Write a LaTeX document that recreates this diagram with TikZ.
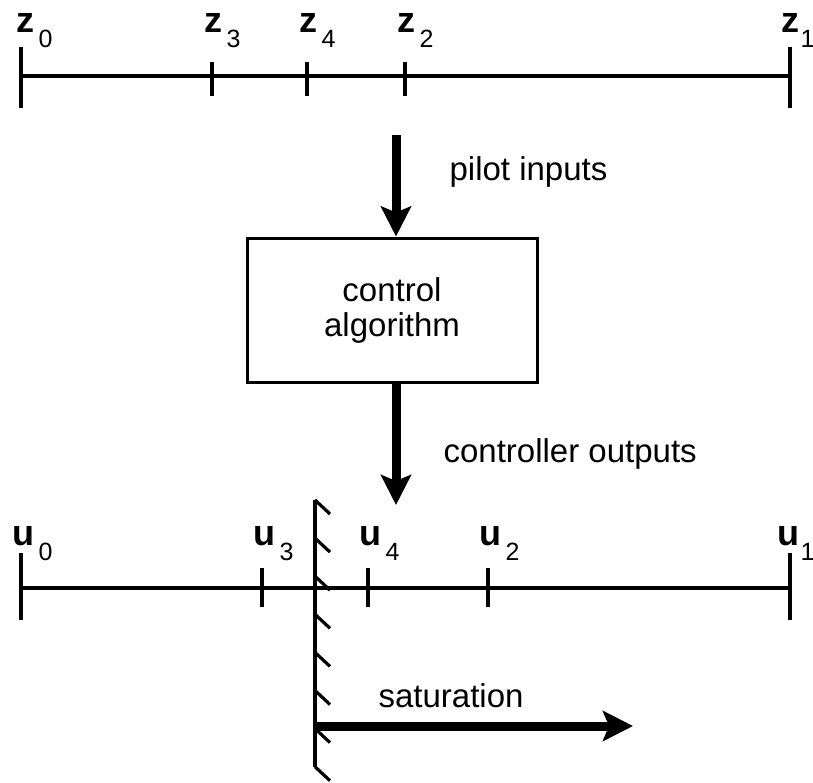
\documentclass[tikz,border=0pt]{standalone}
\usepackage{fontspec}
\setmainfont{Liberation Sans}
\usetikzlibrary{arrows.meta}
\newcommand{\axlab}[3][2pt]{{\fontsize{18}{20}\selectfont\bfseries #2}\hspace{#1}\raisebox{-7.5pt}{\fontsize{12.5}{14}\selectfont #3}}
\tikzset{
  fat/.style={line width=4.5pt, -{Stealth[length=15pt,width=15pt,inset=3pt]}},
  lab/.style={anchor=base west, inner sep=0pt},
  algbox/.style={draw, line width=1.5pt, minimum width=145pt, minimum height=72pt, align=center,
    font=\fontsize{16.5}{17.5}\selectfont},
}
\begin{document}
\begin{tikzpicture}[x=0.5pt, y=-0.5pt, line width=1.6pt, font=\fontsize{16.5}{19}\selectfont]
  \useasboundingbox (0,0) rectangle (813,782);
  \draw (21,76) -- (790,76);
  \draw (21,47) -- (21,108);
  \draw (790,47) -- (790,108);
  \node[lab] (z0) at (15,32) {\axlab{z}{0}};
  \node[lab] (z1) at (780,32) {\axlab[0.5pt]{z}{1}};
  \foreach \x/\i in {212/3, 307/4, 405/2} {
    \draw (\x,62) -- (\x,96);
    \node[lab] (z\i) at (\x-9,32) {\axlab{z}{\i}};
  }
  \node[algbox] (algo) at (392,310) {control\\algorithm};
  \coordinate (pin) at (396,135);
  \coordinate (pout) at (396,505);
  \draw[fat] (pin) -- (pin |- algo.north);
  \draw[fat] (algo.south -| pout) -- (pout);
  \node[lab] (pilot) at (448,180) {pilot inputs};
  \node[lab] (ctrl) at (442,462) {controller outputs};
  \draw (21,588) -- (790,588);
  \draw (21,553) -- (21,620);
  \draw (790,553) -- (790,620);
  \node[lab] (u0) at (11,545) {\axlab{u}{0}};
  \node[lab] (u1) at (776,545) {\axlab[0.5pt]{u}{1}};
  \foreach \x/\i in {262/3, 368/4, 488/2} {
    \draw (\x,568) -- (\x,607);
    \node[lab] (u\i) at (\x-10,545) {\axlab{u}{\i}};
  }
  \draw (315,500) -- (315,767);
  \foreach \k in {0,...,7}
    \draw (315,500+38.1*\k) -- ++(15,14);
  \coordinate (sat0) at (315,726);
  \coordinate (sat1) at (633,726);
  \draw[fat] (sat0) -- (sat1);
  \node[lab] (satlab) at (377,707) {saturation};
\end{tikzpicture}
\end{document}
